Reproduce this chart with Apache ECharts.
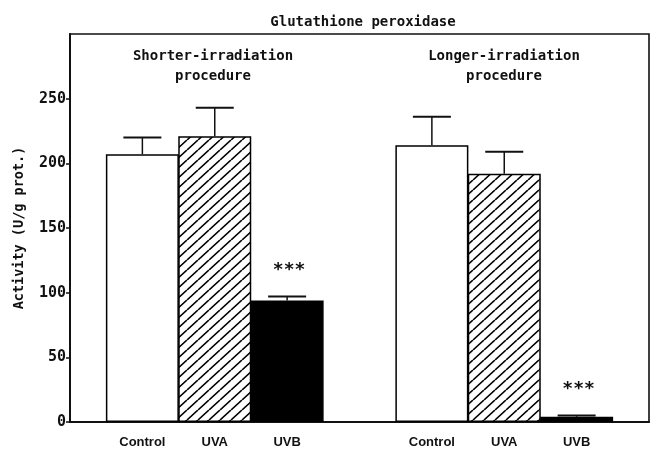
<!DOCTYPE html>
<html>
<head>
<meta charset="utf-8">
<script src="https://cdn.jsdelivr.net/npm/echarts@6/dist/echarts.min.js"></script>
<style>
html,body{margin:0;padding:0;background:#fff;}
#chart{width:656px;height:449px;}
</style>
</head>
<body>
<div id="chart"></div>
<script>
// ---- data ----
var categories = ['', 'Control', 'UVA', 'UVB', '', 'Control', 'UVA', 'UVB', ''];
var groupNames = ['Shorter-irradiation\nprocedure', 'Longer-irradiation\nprocedure'];
var shortMeans = [207, 221, 94];
var shortSE = [13, 22, 3];
var longMeans = [214, 192, 4];
var longSE = [22, 17, 1];
var significance = ['', '', '***'];
var yTicks = [0, 50, 100, 150, 200, 250];
var yMax = 300;

// ---- hatch pattern ----
function makeHatch() {
  var c = document.createElement('canvas');
  var w = 11, h = 10;
  c.width = w; c.height = h;
  var g = c.getContext('2d');
  g.fillStyle = '#fff';
  g.fillRect(0, 0, w, h);
  g.strokeStyle = '#000';
  g.lineWidth = 1.6;
  g.beginPath();
  g.moveTo(-w, h); g.lineTo(0, 0);
  g.moveTo(0, h); g.lineTo(w, 0);
  g.moveTo(w, h); g.lineTo(2 * w, 0);
  g.stroke();
  return c;
}
var hatch = makeHatch();
var fills = [
  {color: '#ffffff'},
  {color: {image: hatch, repeat: 'repeat'}},
  {color: '#000000'}
];

// build per-category data
var barData = [];
var errData = [];
var sigData = [];
var groups = [[shortMeans, shortSE], [longMeans, longSE]];
var starts = [1, 5];
for (var i = 0; i < categories.length; i++) barData.push('-');
groups.forEach(function (gp, gi) {
  gp[0].forEach(function (m, k) {
    var idx = starts[gi] + k;
    barData[idx] = {
      value: m,
      itemStyle: {color: fills[k].color, borderColor: '#000', borderWidth: 1.5}
    };
    errData.push([idx, m, m + gp[1][k]]);
    if (significance[k]) sigData.push({idx: idx, top: m + gp[1][k]});
  });
});

var chart = echarts.init(document.getElementById('chart'), null, {renderer: 'canvas'});
var monoFont = 'DejaVu Sans Mono';

chart.setOption({
  animation: false,
  backgroundColor: '#fff',
  title: {
    text: 'Glutathione peroxidase',
    left: 358, top: 10, textAlign: 'center',
    textStyle: {fontFamily: monoFont, fontSize: 14, fontWeight: 'bold', color: '#111'}
  },
  grid: {
    left: 70, top: 34, right: 7, bottom: 27,
    show: true, borderColor: '#111', borderWidth: 1.6, backgroundColor: 'transparent'
  },
  graphic: [
    {type: 'text', x: 213, y: 66, style: {text: groupNames[0], textAlign: 'center', textVerticalAlign: 'middle', font: 'bold 14px "DejaVu Sans Mono"', lineHeight: 20, fill: '#111'}},
    {type: 'text', x: 504, y: 66, style: {text: groupNames[1], textAlign: 'center', textVerticalAlign: 'middle', font: 'bold 14px "DejaVu Sans Mono"', lineHeight: 20, fill: '#111'}}
  ],
  xAxis: {
    type: 'category',
    data: categories,
    boundaryGap: false,
    axisLine: {lineStyle: {color: '#111', width: 2}},
    axisTick: {show: false},
    axisLabel: {interval: 0, margin: 14, fontFamily: 'Liberation Sans', fontWeight: 'bold', fontSize: 13, color: '#111'},
    splitLine: {show: false}
  },
  yAxis: {
    type: 'value',
    min: 0, max: yMax, interval: 50,
    name: 'Activity (U/g prot.)',
    nameLocation: 'middle',
    nameGap: 44,
    nameRotate: 90,
    nameTextStyle: {fontFamily: monoFont, fontSize: 13.5, fontWeight: 'bold', color: '#111'},
    axisLine: {show: true, lineStyle: {color: '#111', width: 2}},
    axisTick: {show: true, length: 4, lineStyle: {color: '#111', width: 1.5}, customValues: yTicks},
    axisLabel: {margin: 4, fontFamily: monoFont, fontWeight: 'bold', fontSize: 15, color: '#111', customValues: yTicks},
    splitLine: {show: false}
  },
  series: [
    {
      type: 'bar',
      data: barData,
      barWidth: 73,
      z: 2
    },
    {
      type: 'custom',
      data: errData,
      z: 3,
      renderItem: function (params, api) {
        var x = api.value(0);
        var base = api.coord([x, api.value(1)]);
        var top = api.coord([x, api.value(2)]);
        var half = 19;
        return {
          type: 'group',
          children: [
            {type: 'line', shape: {x1: base[0], y1: base[1], x2: top[0], y2: top[1]}, style: {stroke: '#111', lineWidth: 1.5}},
            {type: 'line', shape: {x1: top[0] - half, y1: top[1], x2: top[0] + half, y2: top[1]}, style: {stroke: '#111', lineWidth: 2}}
          ]
        };
      }
    },
    {
      type: 'custom',
      data: sigData.map(function (s) { return [s.idx, s.top]; }),
      z: 4,
      renderItem: function (params, api) {
        var p = api.coord([api.value(0), api.value(1)]);
        return {
          type: 'text',
          x: p[0] + 2, y: p[1] - 26,
          style: {text: '***', textAlign: 'center', textVerticalAlign: 'middle', font: 'bold 18px "DejaVu Sans Mono"', fill: '#111'}
        };
      }
    }
  ]
});
</script>
</body>
</html>
